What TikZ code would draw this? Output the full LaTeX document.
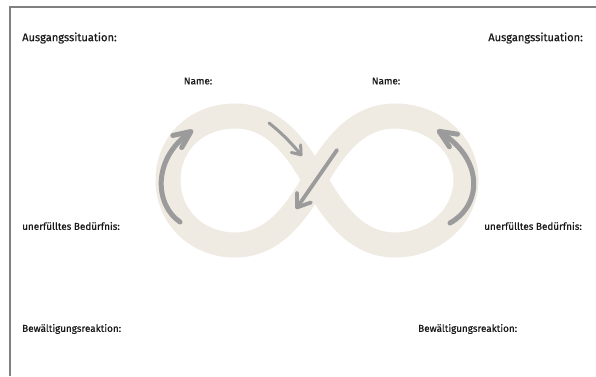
\documentclass[tikz,border=0pt]{standalone}
\usepackage{fontspec}
\setmainfont{Fira Sans}
\newfontfamily\labelfont{Fira Sans}[FakeBold=0.6]
\usetikzlibrary{arrows.meta}
\definecolor{bandbeige}{HTML}{EFEBE3}
\definecolor{arrowgray}{HTML}{9B9B9B}
\definecolor{framegray}{HTML}{808080}
\definecolor{textdark}{HTML}{1A1A1A}

\begin{document}
\begin{tikzpicture}[x=1pt,y=-1pt,
  caption/.style={inner sep=0pt, text=textdark, font=\labelfont\fontsize{9.9}{11}\selectfont},
  heading/.style={caption, font=\labelfont\fontsize{11.1}{13}\selectfont},
  band/.style={draw=bandbeige, line width=25pt, line join=round},
  bigarrow/.style={draw=arrowgray, line width=5pt, line cap=round,
    -{Straight Barb[length=17pt, width=15pt, round]}},
  midarrow/.style={draw=arrowgray, line width=3.8pt, line cap=round,
    -{Straight Barb[length=12pt, width=17pt, round]}},
  smallarrow/.style={draw=arrowgray, line width=3pt, line cap=round,
    -{Straight Barb[length=8pt, width=12pt, round]}}]

\useasboundingbox (0,0) rectangle (596,376);
\fill[white] (0,0) rectangle (596,376);

% frame: only the top and left edges lie inside the page
\draw[framegray, line width=1.5pt] (596,7) -- (10,7) -- (10,376);

% the lying eight
\draw[band] (315,180)
  .. controls (332.5,149.7) and (355,116) .. (395,116)
  .. controls (434,116) and (466,144) .. (466,180)
  .. controls (466,216) and (434,245) .. (395,245)
  .. controls (355,245) and (332.5,210.3) .. (315,180)
  .. controls (297.5,149.7) and (275,116) .. (235,116)
  .. controls (196,116) and (168,144) .. (168,180)
  .. controls (168,216) and (196,245) .. (235,245)
  .. controls (275,245) and (297.5,210.3) .. (315,180);

% arrow end points
\coordinate (leftTail)  at (180,222);
\coordinate (leftTip)   at (193,130);
\coordinate (topTail)   at (269,123);
\coordinate (topTip)    at (302,156);
\coordinate (crossTail) at (337,150);
\coordinate (crossTip)  at (296,209);
\coordinate (rightTail) at (450,223);
\coordinate (rightTip)  at (437,130);

\draw[bigarrow] (leftTail) .. controls (155,205) and (152,160) .. (leftTip);
\draw[smallarrow] (topTail) .. controls (283,134) and (293,145) .. (topTip);
\draw[midarrow] (crossTail) -- (crossTip);
\draw[bigarrow] (rightTail) .. controls (482,205) and (484,160) .. (rightTip);

% texts
\node[heading, anchor=west] (sitL) at (22,38) {Ausgangssituation:};
\node[heading, anchor=east] (sitR) at (583,38) {Ausgangssituation:};
\node[caption] (nameL) at (198,81) {Name:};
\node[caption] (nameR) at (386,81) {Name:};
\node[caption, anchor=west] (needL) at (22,226) {unerfülltes Bedürfnis:};
\node[caption, anchor=east] (needR) at (582,226) {unerfülltes Bedürfnis:};
\node[caption, anchor=west] (copeL) at (22,329) {Bewältigungsreaktion:};
\node[caption, anchor=west] (copeR) at (418,329) {Bewältigungsreaktion:};
\end{tikzpicture}
\end{document}
